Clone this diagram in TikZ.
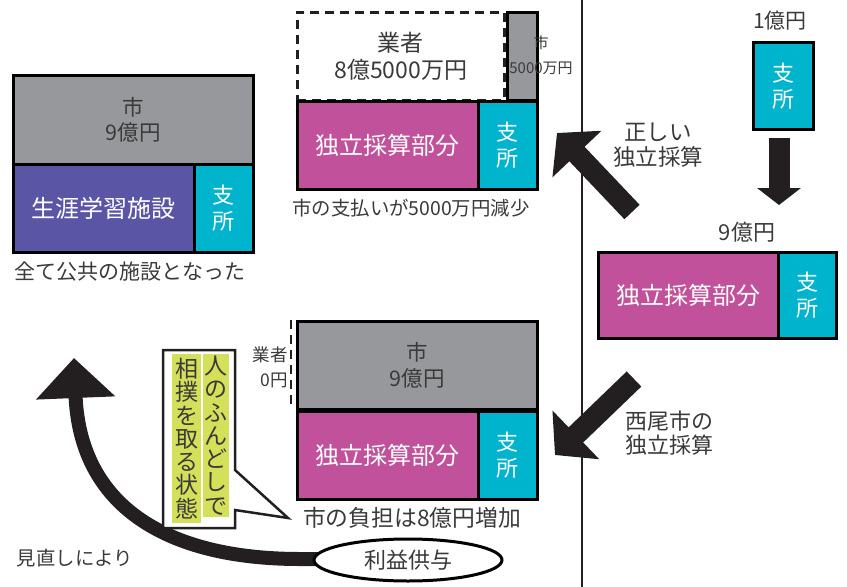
\documentclass[tikz,border=0pt]{standalone}
\usepackage{fontspec}
\setmainfont{Noto Sans CJK JP}
\usetikzlibrary{arrows.meta,shapes.geometric,backgrounds}
\definecolor{cgray}{HTML}{97989B}
\definecolor{cmag}{HTML}{C1519B}
\definecolor{ccyan}{HTML}{00B4CE}
\definecolor{cpurp}{HTML}{5A55A5}
\definecolor{cylw}{HTML}{D5E05A}
\definecolor{ctext}{HTML}{3A3A3A}
\definecolor{carrow}{HTML}{231F20}
\begin{document}
\begin{tikzpicture}[x=1pt,y=-1pt,
  box/.style={draw=black, line width=2.5pt, inner sep=0pt, anchor=north west, text=white},
  f/.style 2 args={font=\fontsize{#1pt}{#2pt}\selectfont},
  lbl/.style={text=ctext, inner sep=0pt, align=center},
  bigarrow/.style={draw=carrow, line width=21pt, -{Triangle[length=29pt,width=66pt]}},
]
\useasboundingbox (0,0) rectangle (847,587);

% divider
\draw[line width=2pt, draw=carrow] (582,0) -- (582,587);

% ---------- top-left ----------
\node[box, fill=cgray, text=ctext, minimum width=240, minimum height=89, align=center, f={21.5}{25}] (tlg) at (12,74) {市\\9億円};
\node[box, fill=cpurp, minimum width=181, minimum height=88, f={24}{28}] (tlp) at (12,163) {生涯学習施設};
\node[box, fill=ccyan, minimum width=59, minimum height=88, align=center, f={22}{26}] (tlc) at (193,163) {支\\所};
\node[lbl, f={21}{25}] (tlcap) at (130,272) {全て公共の施設となった};

% ---------- top-middle ----------
\node[box, draw=carrow, dashed, dash pattern=on 9pt off 6pt, fill=white, text=ctext, minimum width=207, minimum height=88, align=center, f={23}{27}] (tmd) at (296,11) {業者\\8億5000万円};
\node[box, fill=cgray, minimum width=30, minimum height=88] (tms) at (506,11) {};
\node[lbl, f={15}{25}] (tmsl) at (541,55) {市\\5000万円};
\node[box, fill=cmag, minimum width=181, minimum height=88, f={24}{28}] (tmm) at (296,100) {独立採算部分};
\node[box, fill=ccyan, minimum width=59, minimum height=88, align=center, f={22}{26}] (tmc) at (477,100) {支\\所};
\node[lbl, f={19.4}{24}] (tmcap) at (411,208) {市の支払いが5000万円減少};

% ---------- right ----------
\node[lbl, f={21}{24}] (r1) at (780,21) {1億円};
\node[box, fill=ccyan, minimum width=60, minimum height=87, align=center, f={22}{26}] (rc) at (752,41) {支\\所};
\node[lbl, f={22}{24}] (r9) at (747,232) {9億円};
\node[box, fill=cmag, minimum width=180, minimum height=86, f={24}{28}] (rm) at (597,251) {独立採算部分};
\node[box, fill=ccyan, minimum width=58, minimum height=86, align=center, f={22}{26}] (rcc) at (777,251) {支\\所};
\coordinate (da1) at (779,138);
\coordinate (da2) at (779,205);
\draw[draw=carrow, line width=21pt, -{Triangle[length=17pt,width=43pt]}] (da1) -- (da2);

% ---------- big diagonal arrows ----------
\coordinate (ua1) at (632,212);
\coordinate (ua2) at (557,133);
\draw[bigarrow] (ua1) -- (ua2);
\node[lbl, f={22.5}{25}] (ualbl) at (658,145) {正しい\\独立採算};
\coordinate (la1) at (634,379);
\coordinate (la2) at (555,455);
\draw[bigarrow] (la1) -- (la2);
\node[lbl, f={22}{24}] (lalbl) at (669,433) {西尾市の\\独立採算};

% ---------- bottom-middle ----------
\node[box, fill=cgray, text=ctext, minimum width=240, minimum height=88, align=center, f={21.5}{26}] (bmg) at (296,320) {市\\9億円};
\draw[draw=carrow, line width=2.5pt, dash pattern=on 9pt off 6pt] (291,320) -- (291,408);
\node[lbl, align=right, anchor=east, f={17.5}{25}] (bml) at (288,367) {業者\\0円};
\node[box, fill=cmag, minimum width=181, minimum height=88, f={24}{28}] (bmm) at (296,410) {独立採算部分};
\node[box, fill=ccyan, minimum width=59, minimum height=88, align=center, f={22}{26}] (bmc) at (477,410) {支\\所};
\node[lbl, f={22.8}{26}] (bmcap) at (412,518) {市の負担は8億円増加};

% ---------- callout ----------
\draw[draw=carrow, line width=2.5pt, fill=white] (163,350) -- (235,350) -- (235,470) -- (288,518) -- (235,510) -- (235,528) -- (163,528) -- cycle;
\fill[cylw] (203,354) rectangle (229,517);
\fill[cylw] (172,354) rectangle (201,523);
\node[lbl, f={23}{23.3}] (co1) at (216,435.5) {人\\の\\ふ\\ん\\ど\\し\\で};
\node[lbl, f={23}{23.3}] (co2) at (186.5,438.5) {相\\撲\\を\\取\\る\\状\\態};

% ---------- bottom curve ----------
\node[draw=black, line width=3pt, fill=white, ellipse, minimum width=188, minimum height=42, inner sep=0pt, text=ctext, f={22}{26}] (ell) at (408,560) {利益供与};
\begin{scope}[on background layer]
\draw[draw=carrow, line width=14pt, -{Triangle[length=40pt,width=77pt]}] (ell.center) -- (300,559) .. controls (165,559) and (80,505) .. (74,358);
\end{scope}
\node[lbl, f={19.4}{24}] (mn) at (75,558) {見直しにより};
\end{tikzpicture}
\end{document}
